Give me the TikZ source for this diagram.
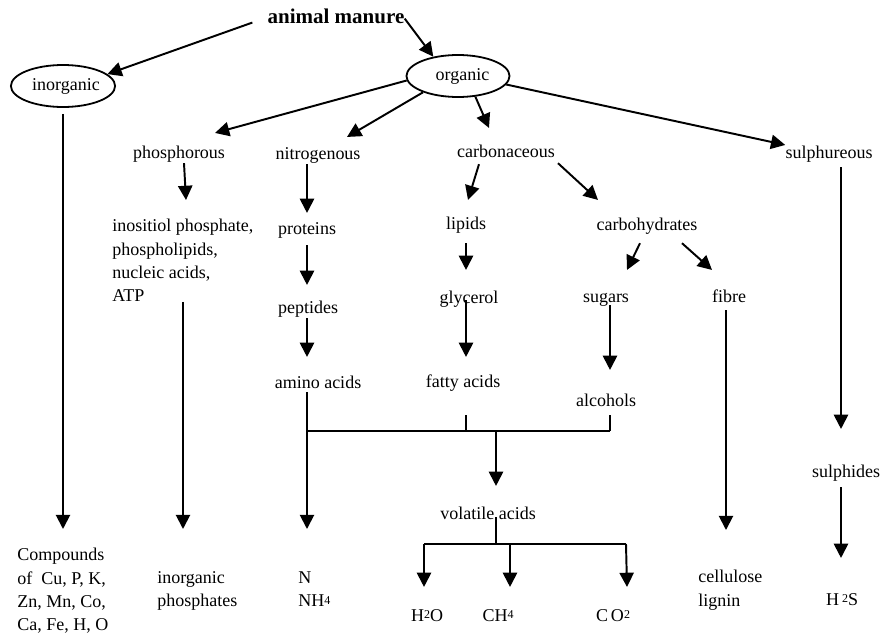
\documentclass[tikz,border=0pt]{standalone}
\usepackage{fontspec}
\setmainfont{Liberation Serif}
\usetikzlibrary{arrows.meta,shapes.geometric}
\newcommand{\sm}[1]{\raisebox{1.5pt}{\fontsize{8}{8}\selectfont #1}}

\begin{document}
\begin{tikzpicture}[
  x=0.6667pt,
  y=-0.6667pt,
  lbl/.style={inner sep=0, anchor=base, text height=8.5pt, text depth=2.6pt, font=\fontsize{12}{15.5}\selectfont},
  blk/.style={inner sep=0, anchor=north west, align=left, font=\fontsize{12}{15.5}\selectfont},
  oval/.style={ellipse, draw, line width=1.2pt, minimum width=68.7pt, minimum height=28pt, inner sep=0, font=\fontsize{12}{14}\selectfont},
  flow/.style={-{Triangle[length=9.5pt,width=9.5pt]}, line width=1.3pt},
  link/.style={line width=1.3pt}
]
\useasboundingbox (0,0) rectangle (883,634);
\node[lbl, font=\fontsize{14}{16}\selectfont\bfseries] (manure) at (336,23) {animal manure};
\node[oval] (inorg) at (63,86) {\hspace{4pt}\raisebox{-2.5pt}{inorganic}};
\node[oval] (organic) at (458,76) {\hspace{6pt}\raisebox{-2pt}{organic}};

\node[lbl] (phos) at (179,158) {phosphorous};
\node[lbl] (nitro) at (318,159) {nitrogenous};
\node[lbl] (carb) at (506,157) {carbonaceous};
\node[lbl] (sulph) at (829,158) {sulphureous};

\node[blk] (inos) at (112,219) {inositiol phosphate,\\phospholipids,\\nucleic acids,\\ATP};
\node[lbl] (prot) at (307,234) {proteins};
\node[lbl] (pept) at (308,313) {peptides};
\node[lbl] (amino) at (318,388) {amino acids};
\node[lbl] (lipids) at (466,229) {lipids};
\node[lbl] (glyc) at (469,303) {glycerol};
\node[lbl] (fatty) at (463,387) {fatty acids};
\node[lbl] (carbo) at (647,230) {carbohydrates};
\node[lbl] (sugars) at (606,302) {sugars};
\node[lbl] (fibre) at (729,302) {fibre};
\node[lbl] (alcoh) at (606,406) {alcohols};
\node[lbl] (sulphd) at (846,477) {sulphides};
\node[lbl] (volat) at (488,519) {volatile acids};

\node[blk] (comp) at (17,548) {Compounds\\of~ Cu, P, K,\\Zn, Mn, Co,\\Ca, Fe, H, O};
\node[blk] (iphos) at (157,571) {inorganic\\phosphates};
\node[blk] (nnh) at (298,571) {N\\NH\sm{4}};
\node[blk] (cellu) at (698,570) {cellulose\\lignin};
\node[lbl] (h2o) at (427,621) {H\sm{2}O};
\node[lbl] (ch4) at (498,621) {CH\sm{4}};
\node[lbl] (co2) at (613,621) {C\,O\sm{2}};
\node[lbl] (h2s) at (842,605) {H\,\sm{2}S};

\coordinate (jL) at (307,431);
\coordinate (jF) at (466,431);
\coordinate (jM) at (496,431);
\coordinate (jR) at (610,431);
\coordinate (vM) at (496,544);
\coordinate (vL) at (424,544);
\coordinate (vC) at (510,544);
\coordinate (vR) at (626,544);

\draw[flow] ([shift={(-15,4)}]manure.west) -- (inorg.15);
\draw[flow] (manure.east) -- (organic.142);
\draw[flow] (organic.185) -- ([shift={(36,-12)}]phos.north);
\draw[flow] (organic.205) -- ([shift={(29,-9)}]nitro.north);
\draw[flow] (organic.-50) -- ([shift={(-17,-16)}]carb.north);
\draw[flow] (organic.-10) -- (sulph.north west);

\draw[flow] ([shift={(0,6)}]inorg.south) -- ([shift={(46,-19)}]comp.north west);
\draw[flow] ([shift={(5,1)}]phos.south) -- ([shift={(74,-19)}]inos.north west);
\draw[flow] ([shift={(71,0)}]inos.south west) -- ([shift={(26,-42)}]iphos.north west);

\draw[flow] ([shift={(-11,1)}]nitro.south) -- ([shift={(0,-8)}]prot.north);
\draw[flow] ([shift={(0,7)}]prot.south) -- ([shift={(-1,-15)}]pept.north);
\draw[flow] ([shift={(-1,1)}]pept.south) -- ([shift={(-11,-18)}]amino.north);
\draw[flow] ([shift={(-11,0)}]amino.south) -- ([shift={(9,-42)}]nnh.north west);

\draw[flow] ([shift={(-27,3)}]carb.south) -- ([shift={(2,-16)}]lipids.north);
\draw[flow] ([shift={(52,2)}]carb.south) -- ([shift={(-49,-17)}]carbo.north);
\draw[flow] ([shift={(0,10)}]lipids.south) -- ([shift={(-3,-20)}]glyc.north);
\draw[flow] ([shift={(-3,-7)}]glyc.south) -- ([shift={(3,-17)}]fatty.north);
\draw[flow] ([shift={(-7,9)}]carbo.south) -- ([shift={(21,-19)}]sugars.north);
\draw[flow] ([shift={(35,9)}]carbo.south) -- ([shift={(-17,-19)}]fibre.north);
\draw[flow] ([shift={(4,-1)}]sugars.south) -- ([shift={(4,-23)}]alcoh.north);
\draw[flow] ([shift={(-3,4)}]fibre.south) -- ([shift={(28,-40)}]cellu.north west);

\draw[flow] ([shift={(12,5)}]sulph.south) -- ([shift={(-5,-35)}]sulphd.north);
\draw[flow] ([shift={(-5,6)}]sulphd.south) -- ([shift={(-1,-34)}]h2s.north);

\draw[link] (jL) -- (jR);
\draw[link] ([shift={(3,24)}]fatty.south) -- (jF);
\draw[link] ([shift={(4,5)}]alcoh.south) -- (jR);
\draw[flow] (jM) -- ([shift={(8,-20)}]volat.north);

\draw[link] ([shift={(8,-6)}]volat.south) -- (vM);
\draw[link] (vL) -- (vR);
\draw[flow] (vL) -- ([shift={(-3,-21)}]h2o.north);
\draw[flow] (vC) -- ([shift={(12,-21)}]ch4.north);
\draw[flow] (vR) -- ([shift={(14,-21)}]co2.north);
\end{tikzpicture}
\end{document}
